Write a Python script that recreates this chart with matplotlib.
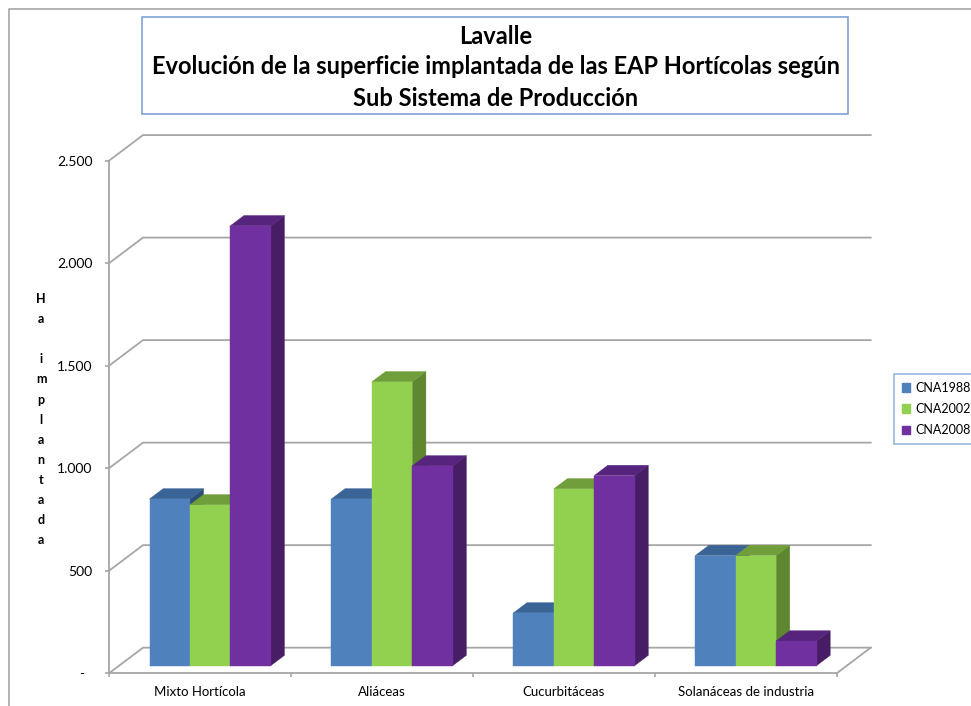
import numpy as np
import matplotlib.pyplot as plt
from matplotlib.patches import Polygon, Patch, Rectangle
from matplotlib.lines import Line2D

plt.rcParams['font.family'] = ['Lato', 'DejaVu Sans']

# ------------------------------------------------------------
# Data
# ------------------------------------------------------------
categories = ["Mixto Hortícola", "Aliáceas", "Cucurbitáceas", "Solanáceas de industria"]
series_names = ["CNA1988", "CNA2002", "CNA2008"]
cna1988 = [813, 813, 257, 537]
cna2002 = [784, 1384, 862, 537]
cna2008 = [2145, 974, 927, 120]
y_ticks = [0, 500, 1000, 1500, 2000, 2500]
y_ticklabels = ["-  ", "500", "1.000", "1.500", "2.000", "2.500"]
ylabel = "Ha implantada"
title_lines = ["Lavalle",
               "Evolución de la superficie implantada de las EAP Hortícolas según",
               "Sub Sistema de Producción"]

# face colours per series: front, top, side
colors = {
    "CNA1988": ("#4F81BD", "#3B6496", "#2E4F78"),
    "CNA2002": ("#92D050", "#6F9E3A", "#5E8730"),
    "CNA2008": ("#7030A0", "#56237D", "#471D66"),
}
GRID = "#A6A6A6"

# oblique projection: depth t in [0, 1] shifts points right/up
DX = 0.187     # category units
DY = 125.0     # value units
T0, T1 = 0.30, 0.70
GAP = 1.5      # gap width relative to bar width


def proj(x, v, t):
    return (x + t * DX, v + t * DY)


fig = plt.figure(figsize=(9.71, 7.06), dpi=100)
ax = fig.add_axes([0.11226, 0.04632, 0.74943, 0.72606])
ax.set_xlim(0, 4)
ax.set_ylim(0, 2500)
ax.patch.set_alpha(0)

# back wall + side wall gridlines
for v in y_ticks:
    xs, ys = zip(proj(0, v, 0), proj(0, v, 1), proj(4, v, 1))
    ax.plot(xs, ys, color=GRID, lw=1.3, clip_on=False, zorder=1)
# floor right edge
xs, ys = zip(proj(4, 0, 0), proj(4, 0, 1))
ax.plot(xs, ys, color=GRID, lw=1.3, clip_on=False, zorder=1)

# bars
all_series = [cna1988, cna2002, cna2008]
bw = 1.0 / (len(series_names) + GAP)
z = 3
for ci in range(len(categories)):
    for si, name in enumerate(series_names):
        v = all_series[si][ci]
        x0 = ci + GAP * bw / 2 + si * bw
        x1 = x0 + bw
        front_c, top_c, side_c = colors[name]
        front = [proj(x0, 0, T0), proj(x1, 0, T0), proj(x1, v, T0), proj(x0, v, T0)]
        top = [proj(x0, v, T0), proj(x1, v, T0), proj(x1, v, T1), proj(x0, v, T1)]
        side = [proj(x1, 0, T0), proj(x1, 0, T1), proj(x1, v, T1), proj(x1, v, T0)]
        for pts, c in [(side, side_c), (top, top_c), (front, front_c)]:
            ax.add_patch(Polygon(pts, closed=True, facecolor=c, edgecolor=c,
                                 lw=0.3, clip_on=False, zorder=z))
            z += 1

# axes styling
for s in ["top", "right"]:
    ax.spines[s].set_visible(False)
for s in ["left", "bottom"]:
    ax.spines[s].set_color(GRID)
    ax.spines[s].set_linewidth(1.3)
ax.set_yticks(y_ticks)
ax.set_yticklabels(y_ticklabels)
ax.tick_params(axis="y", direction="out", length=3, width=1.2, color=GRID,
               pad=9, labelsize=10, labelcolor="black")
ax.set_xticks(range(len(categories) + 1))
ax.set_xticklabels([])
ax.set_xticks([i + 0.5 for i in range(len(categories))], minor=True)
ax.set_xticklabels(categories, minor=True)
ax.tick_params(axis="x", which="major", direction="out", length=3, width=1.2, color=GRID)
ax.tick_params(axis="x", which="minor", length=0, pad=9, labelsize=9.5)

# stacked y label
chars = list(ylabel)
for i, ch in enumerate(chars):
    fig.text(41 / 971, 1 - (299 + 20.1 * i) / 706, ch, ha="center", va="center",
             fontsize=9, fontweight="bold")

# title box
fig.patches.append(Rectangle((142 / 971, 1 - 114.3 / 706), (848 - 142) / 971,
                             (114.3 - 17.3) / 706, transform=fig.transFigure,
                             facecolor="white", edgecolor="#7FA2D4", lw=1.2))
for i, line in enumerate(title_lines):
    fig.text(496 / 971, 1 - (36 + 31 * i) / 706, line, ha="center", va="center",
             fontsize=17, fontweight="bold")

# chart border
fig.add_artist(Line2D([9 / 971, 9 / 971, 1], [0, 1 - 9 / 706, 1 - 9 / 706],
                      transform=fig.transFigure, color=GRID, lw=1.2))

# legend
handles = [Patch(facecolor=colors[n][0], edgecolor=colors[n][0], label=n) for n in series_names]
leg = fig.legend(handles=handles, loc="upper left",
                 bbox_to_anchor=(894 / 971, 1 - 374 / 706), fontsize=9,
                 frameon=True, fancybox=False, handlelength=0.7, handleheight=0.7,
                 handletextpad=0.4, labelspacing=0.75, borderpad=0.6, borderaxespad=0)
leg.get_frame().set_edgecolor("#7FA2D4")
leg.get_frame().set_linewidth(1.2)

fig.savefig("out.png", dpi=100)
